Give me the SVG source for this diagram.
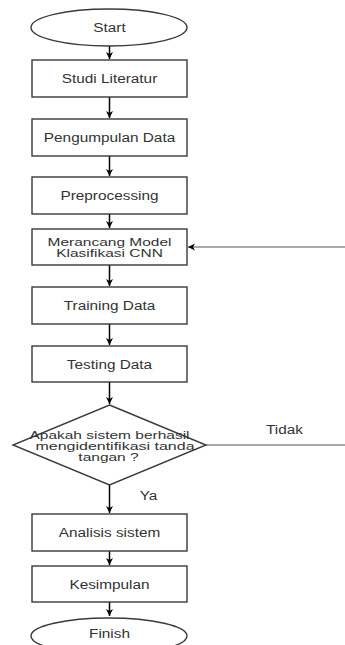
<svg xmlns="http://www.w3.org/2000/svg" width="345" height="645" viewBox="0 0 345 645">
<style>
.shape{fill:#fff;stroke:#3a3a3a;stroke-width:1.4}
.t{font-family:"Liberation Sans",Arial,sans-serif;font-size:12px;fill:#333;text-anchor:middle}
.ts{font-family:"Liberation Sans",Arial,sans-serif;font-size:10px;fill:#333;text-anchor:middle}
.c{stroke:#000;stroke-width:1.5;fill:none}
.g{stroke:#555;stroke-width:1;fill:none}
</style>
<defs>
<marker id="ah" markerWidth="8" markerHeight="8" refX="7" refY="4" orient="auto" markerUnits="userSpaceOnUse">
<path d="M0,0.5 L7,4 L0,7.5 L2,4 Z" fill="#000"/>
</marker>
</defs>
<rect width="345" height="645" fill="#fff"/>
<g id="connectors">
<line class="c" x1="109.5" y1="46" x2="109.5" y2="59" marker-end="url(#ah)"/>
<line class="c" x1="109.5" y1="97" x2="109.5" y2="118" marker-end="url(#ah)"/>
<line class="c" x1="109.5" y1="156" x2="109.5" y2="176" marker-end="url(#ah)"/>
<line class="c" x1="109.5" y1="214" x2="109.5" y2="228" marker-end="url(#ah)"/>
<line class="c" x1="109.5" y1="265" x2="109.5" y2="286" marker-end="url(#ah)"/>
<line class="c" x1="109.5" y1="324" x2="109.5" y2="345" marker-end="url(#ah)"/>
<line class="c" x1="109.5" y1="382" x2="109.5" y2="404" marker-end="url(#ah)"/>
<line class="c" x1="109.5" y1="485" x2="109.5" y2="513" marker-end="url(#ah)"/>
<line class="c" x1="109.5" y1="551" x2="109.5" y2="565" marker-end="url(#ah)"/>
<line class="c" x1="109.5" y1="602" x2="109.5" y2="616" marker-end="url(#ah)"/>
<line class="g" x1="206" y1="445" x2="345" y2="445"/>
<line class="g" x1="345" y1="247" x2="188" y2="247" marker-end="url(#ah)"/>
<text class="t" transform="translate(284.5,434) scale(1.28,1)">Tidak</text>
<text class="t" transform="translate(148.5,500) scale(1.28,1)">Ya</text>
</g>
<g id="start">
<ellipse class="shape" cx="109" cy="27.5" rx="78" ry="18.5"/>
<text class="t" transform="translate(109.5,31.5) scale(1.28,1)">Start</text>
</g>
<g id="studi">
<rect class="shape" x="32" y="60" width="155" height="37"/>
<text class="t" transform="translate(109.5,83) scale(1.28,1)">Studi Literatur</text>
</g>
<g id="pengumpulan">
<rect class="shape" x="32" y="119" width="155" height="37"/>
<text class="t" transform="translate(109.5,142) scale(1.28,1)">Pengumpulan Data</text>
</g>
<g id="preprocessing">
<rect class="shape" x="32" y="177" width="155" height="37"/>
<text class="t" transform="translate(109.5,200) scale(1.28,1)">Preprocessing</text>
</g>
<g id="merancang">
<rect class="shape" x="32" y="229" width="155" height="36"/>
<text class="ts" transform="translate(109.5,245.8) scale(1.55,1)">Merancang Model</text>
<text class="ts" transform="translate(109.5,257) scale(1.55,1)">Klasifikasi CNN</text>
</g>
<g id="training">
<rect class="shape" x="32" y="287" width="155" height="37"/>
<text class="t" transform="translate(109.5,310) scale(1.28,1)">Training Data</text>
</g>
<g id="testing">
<rect class="shape" x="32" y="346" width="155" height="36"/>
<text class="t" transform="translate(109.5,368.5) scale(1.28,1)">Testing Data</text>
</g>
<g id="decision">
<polygon class="shape" points="109.5,405 206,445 109.5,485 13,445"/>
<text class="ts" transform="translate(109.5,438.5) scale(1.55,1)">Apakah sistem berhasil</text>
<text class="ts" transform="translate(115,449.7) scale(1.6,1)">mengidentifikasi tanda</text>
<text class="ts" transform="translate(108.5,460.9) scale(1.55,1)">tangan ?</text>
</g>
<g id="analisis">
<rect class="shape" x="32" y="514" width="155" height="37"/>
<text class="t" transform="translate(109.5,537) scale(1.28,1)">Analisis sistem</text>
</g>
<g id="kesimpulan">
<rect class="shape" x="32" y="566" width="155" height="36"/>
<text class="t" transform="translate(109.5,588.5) scale(1.28,1)">Kesimpulan</text>
</g>
<g id="finish">
<ellipse class="shape" cx="109" cy="636" rx="78" ry="18"/>
<text class="t" transform="translate(109.5,638) scale(1.28,1)">Finish</text>
</g>
</svg>
